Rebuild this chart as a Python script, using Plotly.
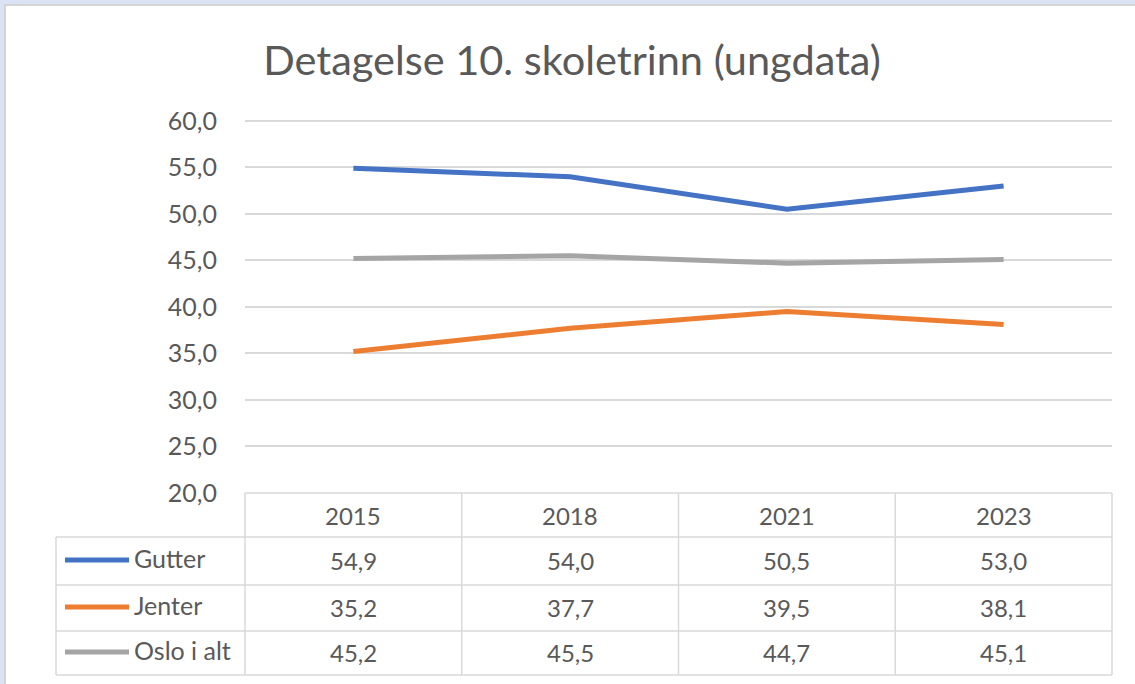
import plotly.graph_objects as go

# ---------------- data ----------------
title_text = "Detagelse 10. skoletrinn (ungdata)"
years = ["2015", "2018", "2021", "2023"]
series_names = ["Gutter", "Jenter", "Oslo i alt"]
gutter = [54.9, 54.0, 50.5, 53.0]
jenter = [35.2, 37.7, 39.5, 38.1]
oslo_i_alt = [45.2, 45.5, 44.7, 45.1]
series_values = [gutter, jenter, oslo_i_alt]
series_colors = ["#4472C4", "#ED7D31", "#A5A5A5"]
y_min, y_max, y_step = 20, 60, 5

# ---------------- geometry helpers (pixels -> paper) ----------------
W, H = 1135, 684
def px(x):
    return x / W
def py(y):
    return 1 - y / H

FONT = "Lato"
TXT = "#595959"
GRID = "#D9D9D9"

plot_left, plot_right = 245, 1112
plot_top, plot_bottom = 119.1, 493
table_left = 56
row_edges = [493, 537, 585, 631, 675]

fig = go.Figure()

for name, vals, col in zip(series_names, series_values, series_colors):
    fig.add_trace(go.Scatter(
        x=years, y=vals, mode="lines", name=name,
        line=dict(color=col, width=5), showlegend=False,
        hoverinfo="x+y+name",
    ))

shapes = []
# background frame
shapes.append(dict(type="rect", xref="paper", yref="paper",
                   x0=px(5), x1=px(W + 5), y0=py(H + 5), y1=py(5),
                   fillcolor="white", line=dict(color="#D4D4D4", width=2),
                   layer="below"))

# table horizontal lines
for i, y in enumerate(row_edges):
    x0 = plot_left if i == 0 else table_left
    shapes.append(dict(type="line", xref="paper", yref="paper",
                       x0=px(x0), x1=px(plot_right), y0=py(y), y1=py(y),
                       line=dict(color=GRID, width=1.5)))
# table vertical lines
col_w = (plot_right - plot_left) / len(years)
for k in range(len(years) + 1):
    x = plot_left + k * col_w
    shapes.append(dict(type="line", xref="paper", yref="paper",
                       x0=px(x), x1=px(x), y0=py(row_edges[0]), y1=py(row_edges[-1]),
                       line=dict(color=GRID, width=1.5)))
shapes.append(dict(type="line", xref="paper", yref="paper",
                   x0=px(table_left), x1=px(table_left),
                   y0=py(row_edges[1]), y1=py(row_edges[-1]),
                   line=dict(color=GRID, width=1.5)))

annotations = []
# header years (category index positions on the x axis)
hdr_c = (row_edges[0] + row_edges[1]) / 2
for i, yr in enumerate(years):
    annotations.append(dict(x=i, xref="x", y=py(hdr_c), yref="paper",
                            text=yr, showarrow=False, yanchor="middle",
                            font=dict(family=FONT, size=24, color=TXT)))
# rows
for r, (name, vals, col) in enumerate(zip(series_names, series_values, series_colors)):
    yc = (row_edges[r + 1] + row_edges[r + 2]) / 2
    shapes.append(dict(type="line", xref="paper", yref="paper",
                       x0=px(65), x1=px(129), y0=py(yc - 1), y1=py(yc - 1),
                       line=dict(color=col, width=5)))
    annotations.append(dict(x=px(132), xref="paper", y=py(yc - 3), yref="paper",
                            text=name, showarrow=False, xanchor="left", yanchor="middle",
                            font=dict(family=FONT, size=25, color=TXT)))
    for i, v in enumerate(vals):
        annotations.append(dict(x=i, xref="x", y=py(yc - 1), yref="paper",
                                text=f"{v:.1f}".replace(".", ","), showarrow=False,
                                yanchor="middle",
                                font=dict(family=FONT, size=24, color=TXT)))

fig.update_layout(
    width=W, height=H,
    margin=dict(l=0, r=0, t=0, b=0, pad=0, autoexpand=False),
    paper_bgcolor="#DAE3F3",
    plot_bgcolor="rgba(0,0,0,0)",
    separators=",.",
    title=dict(text=title_text, x=0.504, xanchor="center", y=py(60), yanchor="middle",
               font=dict(family=FONT, size=41.5, color=TXT)),
    xaxis=dict(domain=[px(plot_left), px(plot_right)], type="category",
               range=[-0.5, len(years) - 0.5], showticklabels=False,
               showgrid=False, zeroline=False, showline=False, automargin=False),
    yaxis=dict(domain=[py(plot_bottom), py(plot_top)], range=[y_min - 0.02, y_max + 0.2],
               tick0=y_min, dtick=y_step, tickformat=".1f",
               showgrid=True, gridcolor=GRID, gridwidth=1.5,
               zeroline=False, showline=False, ticks="", automargin=False,
               ticklabelstandoff=27,
               tickfont=dict(family=FONT, size=25, color=TXT)),
    shapes=shapes,
    annotations=annotations,
    showlegend=False,
)

fig.write_html("out.html", config={"displayModeBar": False},
               post_script="document.body.style.margin='0';")
